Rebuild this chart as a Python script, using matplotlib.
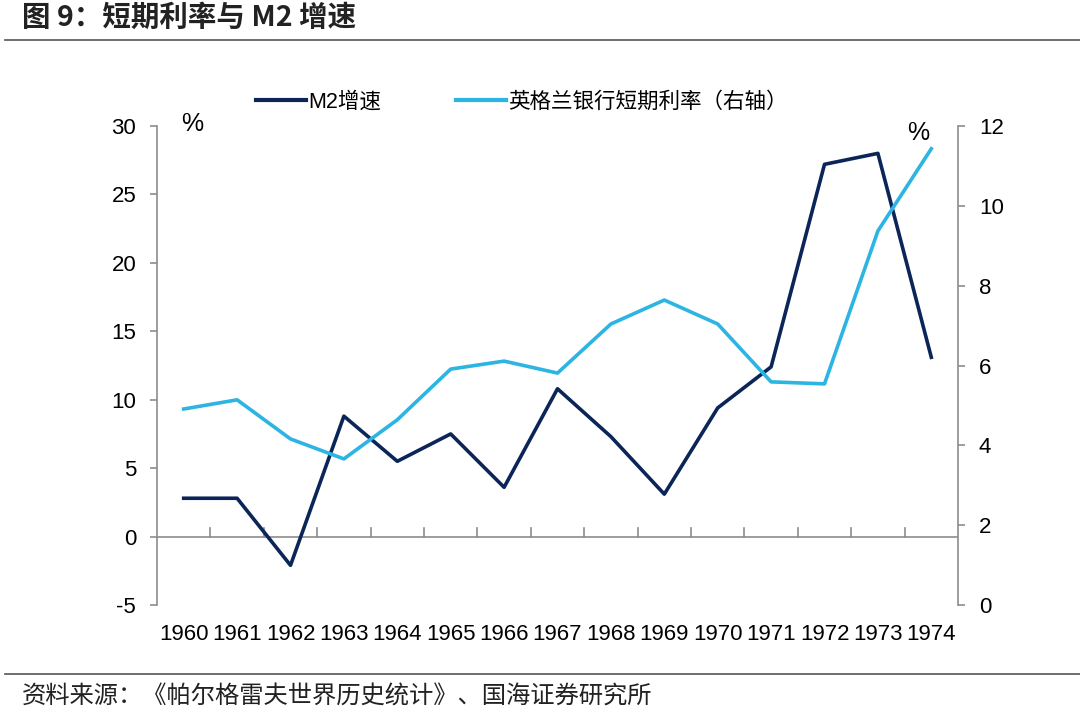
import numpy as np
import matplotlib.pyplot as plt
from matplotlib.lines import Line2D

plt.rcParams['font.family'] = ['Liberation Sans', 'Noto Sans CJK SC', 'DejaVu Sans']
plt.rcParams['axes.unicode_minus'] = False

years = ['1960', '1961', '1962', '1963', '1964', '1965', '1966', '1967',
         '1968', '1969', '1970', '1971', '1972', '1973', '1974']
m2_growth = [2.8, 2.8, -2.1, 8.8, 5.5, 7.5, 3.6, 10.8, 7.3, 3.1, 9.4, 12.4, 27.2, 28.0, 13.1]
boe_rate = [4.91, 5.14, 4.16, 3.66, 4.64, 5.91, 6.11, 5.81, 7.04, 7.64, 7.04, 5.59, 5.54, 9.37, 11.43]

navy = '#0c2558'
cyan = '#2cb4e2'
gray = '#8c8c8c'

fig = plt.figure(figsize=(10.8, 7.2), dpi=100)
ax = fig.add_axes([157/1080, 1-605/720, (958-157)/1080, (605-126)/720])
ax2 = ax.twinx()

x = np.arange(len(years))
ax.plot(x, m2_growth, color=navy, lw=2.6, zorder=3)
ax2.plot(x, boe_rate, color=cyan, lw=2.6, zorder=3)

ax.set_xlim(-0.5, len(years) - 0.5)
ax.set_ylim(-5, 30)
ax.set_yticks([-5, 0, 5, 10, 15, 20, 25, 30])
ax2.set_ylim(0, 12)
ax2.set_yticks([0, 2, 4, 6, 8, 10, 12])

# zero line with upward ticks between categories
ax.axhline(0, color=gray, lw=1.2, zorder=2)
for b in np.arange(0.5, len(years) - 0.5, 1.0):
    ax.plot([b, b], [0, 0.6], color=gray, lw=1.2, zorder=2)

ax.set_xticks(x)
ax.set_xticklabels(years)
ax.tick_params(axis='x', length=0, pad=14, labelsize=16)
ax.tick_params(axis='y', length=5, width=1.2, color=gray, labelsize=16, pad=10)
ax2.tick_params(axis='y', length=5, width=1.2, color=gray, labelsize=16, pad=10)

for a in (ax, ax2):
    for s in ('top', 'bottom'):
        a.spines[s].set_visible(False)
ax.spines['left'].set_color(gray)
ax.spines['right'].set_visible(False)
ax2.spines['left'].set_visible(False)
ax2.spines['right'].set_color(gray)
ax.spines['left'].set_linewidth(1.2)
ax2.spines['right'].set_linewidth(1.2)

fig.text(192/1080, 1-124/720, '%', fontsize=18, ha='center', va='center')
fig.text(918/1080, 1-133/720, '%', fontsize=18, ha='center', va='center')

handles = [Line2D([], [], color=navy, lw=3), Line2D([], [], color=cyan, lw=3)]
fig.legend(handles, ['M2增速', '英格兰银行短期利率（右轴）'], loc='center',
           bbox_to_anchor=(522/1080, 1-102/720), ncol=2, frameon=False,
           fontsize=15.5, handlelength=2.3, handletextpad=0.1, columnspacing=3.5)

fig.text(22/1080, 1-18/720, '图 9：短期利率与 M2 增速', fontsize=20.5, fontweight='bold',
         ha='left', va='center', family=['Noto Sans CJK SC', 'DejaVu Sans'], color='#222222')
fig.add_artist(Line2D([5/1080, 1], [1-40/720, 1-40/720], color='#555555', lw=1.2))
fig.add_artist(Line2D([5/1080, 1], [1-674/720, 1-674/720], color='#555555', lw=1.2))
fig.text(22/1080, 1-697/720, '资料来源：《帕尔格雷夫世界历史统计》、国海证券研究所', fontsize=17.5,
         ha='left', va='center', family=['Noto Sans CJK SC', 'DejaVu Sans'], color='#222222')

fig.savefig('out.png', dpi=100)
